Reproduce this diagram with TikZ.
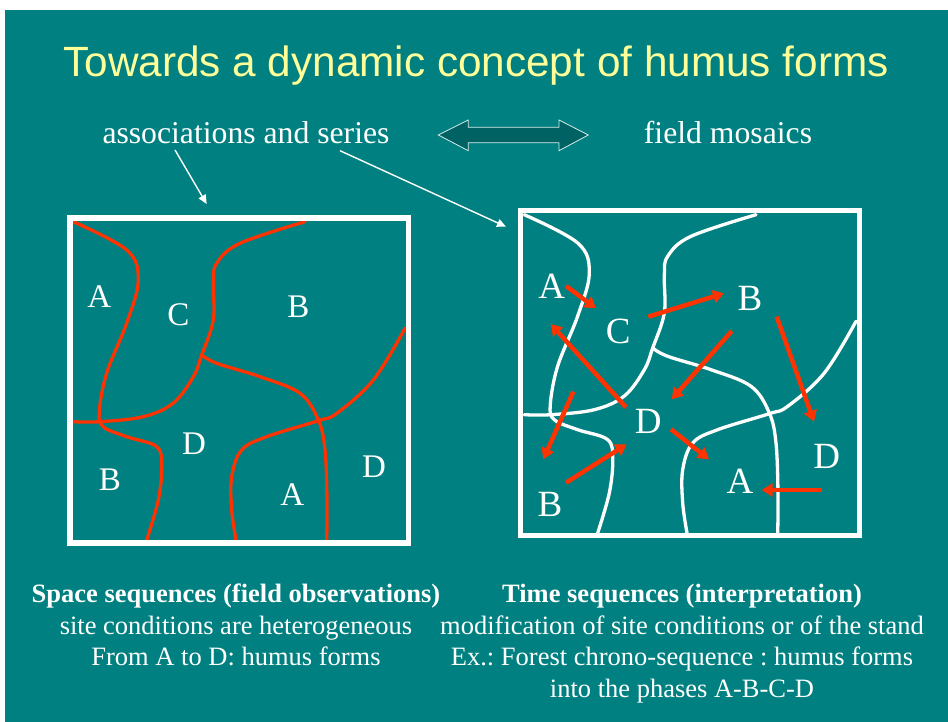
\documentclass[tikz,border=0pt]{standalone}
\usepackage{fontspec}
\setmainfont{Liberation Serif}
\newfontfamily\titlefont{Liberation Sans}
\usetikzlibrary{arrows.meta,positioning}
\definecolor{slidebg}{RGB}{0,128,128}
\definecolor{slidedark}{RGB}{0,98,98}
\definecolor{zonered}{RGB}{255,51,0}
\definecolor{titleyel}{RGB}{255,255,153}
\frenchspacing
\tikzset{
  ttl/.style   ={font=\titlefont\fontsize{42.3}{48}\selectfont, text=titleyel,
                 anchor=base, inner sep=0pt},
  hdr/.style   ={font=\fontsize{31.7}{36}\selectfont, text=white,
                 anchor=base, inner sep=0pt},
  capt/.style  ={font=\fontsize{26.5}{30}\selectfont, text=white,
                 anchor=base, inner sep=0pt},
  zlbl/.style  ={font=\fontsize{33}{36}\selectfont, text=white, inner sep=0pt},
  zlblB/.style ={font=\fontsize{37}{40}\selectfont, text=white, inner sep=0pt},
  frame/.style ={draw=white, line width=5.5pt},
  bound/.style ={line width=3.3pt, line join=round, line cap=round},
  ptr/.style   ={-{Triangle[length=9pt,width=8pt]}, draw=white, line width=1.4pt},
  phase/.style ={-{Triangle[length=11pt,width=13pt]}, draw=zonered,
                 line width=4.5pt},
  dblarr/.style={draw=white!85!slidebg, fill=slidedark, line width=0.8pt},
}
\begin{document}
\begin{tikzpicture}[x=1pt, y=-1pt]
  \useasboundingbox (0,0) rectangle (948,722);
  \fill[white] (0,0) rectangle (948,722);
  \fill[slidebg] (5,10) rectangle (948,722);

  % title and headings
  \node[ttl] (title) at (476,76.7) {Towards a dynamic concept of humus forms};
  \node[hdr] (assoc) at (246,143.3) {associations and series};
  \node[hdr] (mosaic) at (728,143.3) {field mosaics};
  \draw[dblarr] (438.3,135) -- (468.3,120) -- (468.3,127.3) -- (559,127.3)
    -- (559,120) -- (588.3,135) -- (559,150.7) -- (559,142.7)
    -- (468.3,142.7) -- (468.3,150.7) -- cycle;

  % zone boundaries, same pattern in both boxes
  \foreach \dx/\dy/\col in {0/0/zonered, 451/-7/white}{
    \begin{scope}[shift={(\dx,\dy)}, bound, draw=\col]
      \draw plot[smooth, tension=0.6] coordinates {(73.3,221.7) (126.7,250)
        (138.3,280) (126.7,323) (106.7,373) (99.3,411.7) (103.3,426.7)
        (126.7,436.7) (156.7,446.7) (161.7,466.7) (158.3,500) (146.7,540)};
      \draw plot[smooth, tension=0.6] coordinates {(73.3,421.7) (100,421.7)
        (143.3,416.7) (173.3,403) (193.3,376.7) (201.7,355) (213.3,320)
        (213.3,283) (216.7,263.3) (240,243.3) (305,221.7)};
      \draw plot[smooth, tension=0.6] coordinates {(201.7,355) (216.7,363.3)
        (260,376.7) (300,393.3) (318.3,420) (325,450) (327,500) (326.7,540)};
      \draw plot[smooth, tension=0.6] coordinates {(405,328.3) (373.3,380)
        (336.7,413.3) (318.3,420.7) (266.7,436.7) (241.7,450) (231.7,476.7)
        (231.7,510) (236,540)};
    \end{scope}
  }
  \draw[frame] (70,218) rectangle (408.5,543);
  \draw[frame] (520.7,210.7) rectangle (859.5,535.3);

  % space sequence box
  \node[zlbl] (sA1) at (99.3,296.7) {A};
  \node[zlbl] (sC)  at (178.3,315) {C};
  \node[zlbl] (sB1) at (298.3,306.7) {B};
  \node[zlbl] (sD1) at (194,443.3) {D};
  \node[zlbl] (sB2) at (110,480) {B};
  \node[zlbl] (sA2) at (292.3,495) {A};
  \node[zlbl] (sD2) at (374,466.7) {D};

  % time sequence box
  \node[zlblB] (tA1) at (551.7,286) {A};
  \node[zlblB] (tC)  at (618.3,331.7) {C};
  \node[zlblB] (tB1) at (750,298.3) {B};
  \node[zlblB] (tD1) at (648.3,421.7) {D};
  \node[zlblB] (tD2) at (826.7,456.7) {D};
  \node[zlblB] (tA2) at (740,481.7) {A};
  \node[zlblB] (tB2) at (550,504) {B};

  % pointers from the headings
  \coordinate (p1s) at (175,150);
  \coordinate (p1e) at (206.7,204);
  \coordinate (p2s) at (340,150.7);
  \coordinate (p2e) at (506,226.7);
  \draw[ptr] (p1s) -- (p1e);
  \draw[ptr] (p2s) -- (p2e);

  % phase transitions
  \coordinate (ac1) at (566,286);     \coordinate (ac2) at (596,308.3);
  \coordinate (cb1) at (648.3,316.7); \coordinate (cb2) at (724,293.3);
  \coordinate (bd1) at (731.7,331);   \coordinate (bd2) at (671.7,399.3);
  \coordinate (bD1) at (776.7,316.7); \coordinate (bD2) at (814,421.7);
  \coordinate (da1) at (626,407.3);   \coordinate (da2) at (550.7,324);
  \coordinate (xb1) at (573.3,391.7); \coordinate (xb2) at (543.3,459.3);
  \coordinate (bx1) at (566,482.7);   \coordinate (bx2) at (626.7,444.3);
  \coordinate (dA1) at (671,429.3);   \coordinate (dA2) at (709,459.3);
  \coordinate (Da1) at (821.7,490);   \coordinate (Da2) at (761.7,490);
  \foreach \s/\e in {ac1/ac2, cb1/cb2, bd1/bd2, bD1/bD2, da1/da2,
                     xb1/xb2, bx1/bx2, dA1/dA2, Da1/Da2}
    \draw[phase] (\s) -- (\e);

  % captions
  \node[capt] (spc1) at (236,602) {\bfseries Space sequences (field observations)};
  \node[capt] (spc2) at (236,634) {site conditions are heterogeneous};
  \node[capt] (spc3) at (236,665.7) {From A to D: humus forms};
  \node[capt] (tim1) at (682,602) {\bfseries Time sequences (interpretation)};
  \node[capt] (tim2) at (682,634) {modification of site conditions or of the stand};
  \node[capt] (tim3) at (682,665.7) {Ex.: Forest chrono-sequence : humus forms};
  \node[capt] (tim4) at (682,697.7) {into the phases A-B-C-D};
\end{tikzpicture}
\end{document}
